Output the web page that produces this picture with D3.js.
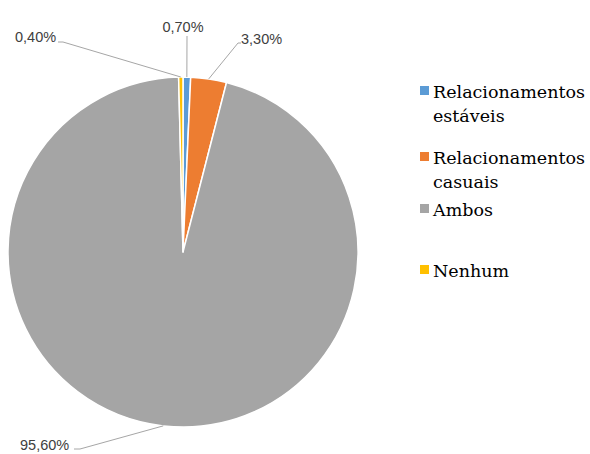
<!DOCTYPE html>
<html><head><meta charset="utf-8">
<script src="https://cdn.jsdelivr.net/npm/d3@7"></script>
<style>body{margin:0;background:#fff;} svg{display:block;}
.lg{font-family:"DejaVu Serif",serif;}
</style>
</head><body>
<svg id="c" width="590" height="454"></svg>
<script>
const categories = ["Relacionamentos estáveis", "Relacionamentos casuais", "Ambos", "Nenhum"];
const legendLines = [["Relacionamentos", "estáveis"], ["Relacionamentos", "casuais"], ["Ambos"], ["Nenhum"]];
const values = [0.7, 3.3, 95.6, 0.4];
const valueLabels = ["0,70%", "3,30%", "95,60%", "0,40%"];
const colors = ["#5B9BD5", "#ED7D31", "#A5A5A5", "#FFC000"];

const svg = d3.select("#c");
const cx = 183, cy = 252, R = 175;
const g = svg.append("g").attr("transform", `translate(${cx},${cy})`);

const pie = d3.pie().sort(null).value(d => d).startAngle(0).endAngle(2 * Math.PI);
const arcs = pie(values);
const arc = d3.arc().innerRadius(0).outerRadius(R);
const edge = d3.arc().innerRadius(R).outerRadius(R);

g.selectAll("path.s").data(arcs).enter().append("path")
  .attr("class", "s")
  .attr("d", arc)
  .attr("fill", (d, i) => colors[i])
  .attr("stroke", "#fff")
  .attr("stroke-width", 1.5)
  .attr("stroke-linejoin", "round");

const labelLayout = [
  {x: 183, y: 32, anchor: "middle", lx: 187, ly: 36},
  {x: 241, y: 44, anchor: "start", lx: 238, ly: 43, hx: 241},
  {x: 20, y: 450, anchor: "start", lx: 80, ly: 449, hx: 74},
  {x: 15, y: 42, anchor: "start", lx: 63, ly: 42, hx: 58}
];

arcs.forEach((d, i) => {
  const c = edge.centroid(d);
  const L = labelLayout[i];
  const pts = [[cx + c[0], cy + c[1]], [L.lx, L.ly]];
  if (L.hx !== undefined) pts.push([L.hx, L.ly]);
  svg.append("path")
    .attr("d", d3.line()(pts))
    .attr("fill", "none")
    .attr("stroke", "#A6A6A6")
    .attr("stroke-width", 1);
  svg.append("text")
    .attr("x", L.x).attr("y", L.y)
    .attr("text-anchor", L.anchor)
    .attr("font-family", "'Liberation Sans', Arial, sans-serif")
    .attr("font-size", 14.5)
    .attr("fill", "#404040")
    .text(valueLabels[i]);
});

const legendY = [98, 164, 216, 277];
const lg = svg.append("g");
categories.forEach((c, i) => {
  const y = legendY[i];
  lg.append("rect").attr("x", 420).attr("y", y - 12).attr("width", 9).attr("height", 9).attr("fill", colors[i]);
  const t = lg.append("text")
    .attr("class", "lg")
    .attr("x", 433).attr("y", y)
    .attr("font-size", 17.5)
    .attr("fill", "#000");
  legendLines[i].forEach((ln, j) => {
    t.append("tspan").attr("x", 433).attr("y", y + j * 24).text(ln);
  });
});
</script>
</body></html>
